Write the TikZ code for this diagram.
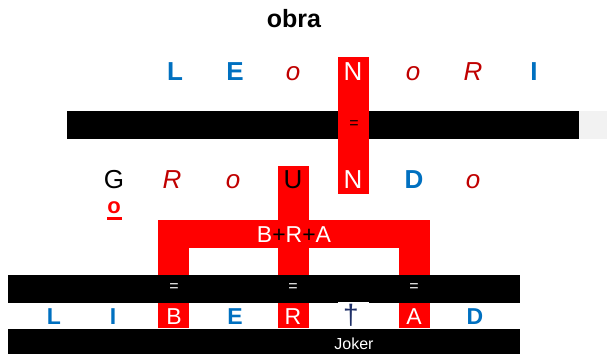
\documentclass[tikz,border=0pt]{standalone}
\usepackage{fontspec}
\setmainfont{Liberation Sans}
\definecolor{cblue}{HTML}{0070C0}
\definecolor{cdred}{HTML}{C00000}
\definecolor{cred}{HTML}{FF0000}
\definecolor{cnavy}{HTML}{1F3068}
\definecolor{cgray}{HTML}{F2F2F2}
\begin{document}
\begin{tikzpicture}[x=1pt,y=-1pt,
  lt/.style={inner sep=0pt, anchor=base, font=\fontsize{26}{30}\selectfont},
  bl/.style={lt, text=cblue, font=\fontsize{26}{30}\selectfont\bfseries},
  rd/.style={lt, text=cdred, font=\fontsize{26}{30}\selectfont\itshape},
  wh/.style={lt, text=white},
  bk/.style={lt, text=black},
  small/.style={font=\fontsize{23}{27}\selectfont},
  smallb/.style={font=\fontsize{23}{27}\selectfont\bfseries},
  eq/.style={inner sep=0pt, anchor=center, font=\fontsize{16}{18}\selectfont},
  redbox/.style={fill=cred},
  bar/.style={fill=black}
]
\useasboundingbox (0,0) rectangle (607,354);
% title
\node[bk, font=\fontsize{25}{29}\selectfont\bfseries] (title) at (294,27) {obra};

% bar 1
\fill[bar] (67,111) rectangle (579,139);
\fill[cgray] (579,111) rectangle (607,139);
% red columns
\fill[redbox] (338,57) rectangle (369,194);
\fill[redbox] (278,166) rectangle (309,328);
\fill[redbox] (158,220) rectangle (430,248);
\fill[redbox] (158,220) rectangle (189,328);
\fill[redbox] (399,220) rectangle (430,328);
% bar 2 and 3
\fill[bar] (8,275) rectangle (520,303);
\fill[white] (338,302) rectangle (369,328);
\fill[bar] (8,329) rectangle (520,354);

% row 1
\node[bl] (l1) at (175,80) {L};
\node[bl] (e1) at (235,80) {E};
\node[rd] (o1) at (293,80) {o};
\node[wh] (n1) at (353,80) {N};
\node[rd] (o2) at (413,80) {o};
\node[rd] (r1) at (473,80) {R};
\node[bl] (i1) at (534,80) {I};
\node[eq, text=black] (eq1) at (354,125) {=};

% row 2
\node[bk] (g2) at (114,188) {G};
\node[rd] (r2) at (172,188) {R};
\node[rd] (o3) at (233,188) {o};
\node[bk] (u2) at (293,188) {U};
\node[wh] (n2) at (353,188) {N};
\node[bl] (d2) at (414,188) {D};
\node[rd] (o4) at (473,188) {o};
\node[lt, text=cred, font=\fontsize{22}{25}\selectfont\bfseries] (ou) at (114,213) {o};
\fill[cred] (107,217) rectangle (122,220);

% B+R+A
\node[wh, font=\fontsize{23}{26}\selectfont] (bra) at (294,242) {B{\color{black}+}R{\color{black}+}A};

% equals in bar 2
\node[eq, text=white] (eqb) at (174,288) {=};
\node[eq, text=white] (eqr) at (293,288) {=};
\node[eq, text=white] (eqa) at (414,288) {=};

% row 3
\node[bl, smallb] (l3) at (54,324) {L};
\node[bl, smallb] (i3) at (113,324) {I};
\node[wh, small] (b3) at (174,324) {B};
\node[bl, smallb] (e3) at (235,324) {E};
\node[wh, small] (r3) at (293,324) {R};
\node[lt, text=cnavy, font=\fontsize{28}{30}\selectfont] (dag) at (351,324) {†};
\node[wh, small] (a3) at (414,324) {A};
\node[bl, smallb] (d3) at (475,324) {D};

\node[wh, font=\fontsize{16}{18}\selectfont] (joker) at (354,349) {Joker};
\end{tikzpicture}
\end{document}
